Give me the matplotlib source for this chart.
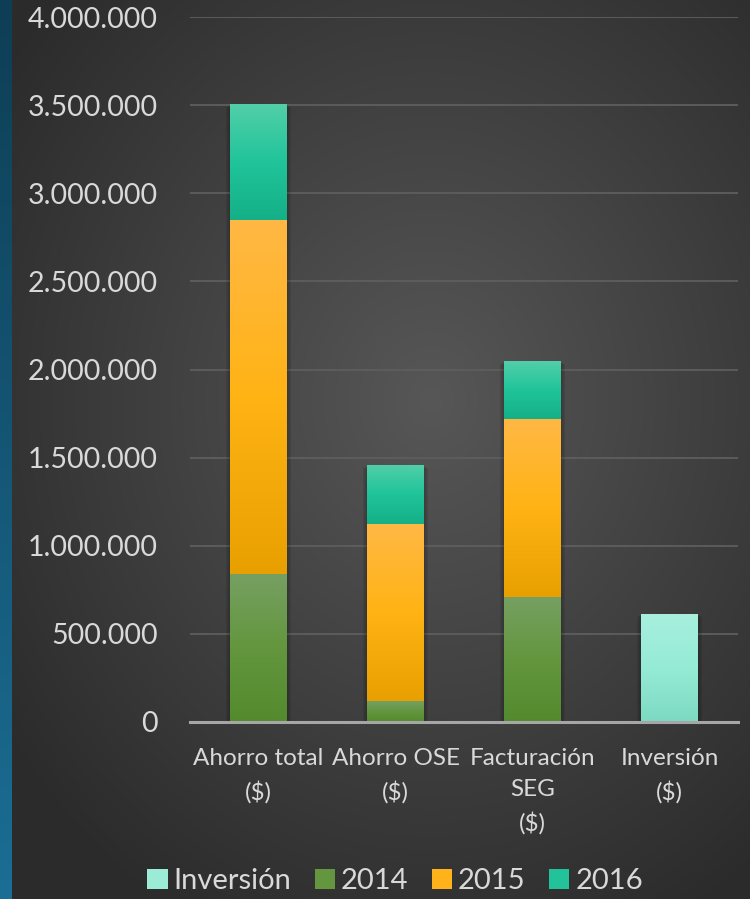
import numpy as np
import matplotlib
matplotlib.use("Agg")
import matplotlib.pyplot as plt
from matplotlib.colors import LinearSegmentedColormap, to_rgb
from matplotlib.patches import Rectangle, Patch

categories = ["Ahorro total\n($)", "Ahorro OSE\n($)", "Facturación\nSEG\n($)", "Inversión\n($)"]
inversion = [0, 0, 0, 613000]
v2014 = [840000, 119000, 709000, 0]
v2015 = [2008000, 1004000, 1010000, 0]
v2016 = [658000, 335000, 329000, 0]
yticks = [0, 500000, 1000000, 1500000, 2000000, 2500000, 3000000, 3500000, 4000000]
ytick_labels = ["0", "500.000", "1.000.000", "1.500.000", "2.000.000", "2.500.000",
                "3.000.000", "3.500.000", "4.000.000"]
legend_labels = ["Inversión", "2014", "2015", "2016"]

FONT = ["Lato", "DejaVu Sans"]
TXT = "#D9D9D9"

W, H = 750, 899
fig = plt.figure(figsize=(W / 100, H / 100), dpi=100)

# background radial gradient
bg = fig.add_axes([0, 0, 1, 1], zorder=-10)
yy, xx = np.mgrid[0:H, 0:W]
cx, cy = 430, 400
r = np.sqrt(((xx - cx) / 520.0) ** 2 + ((yy - cy) / 600.0) ** 2)
r = np.clip(r, 0, 1)
c_in = np.array(to_rgb("#575757"))
c_out = np.array(to_rgb("#2b2b2b"))
img = c_in[None, None, :] * (1 - r[..., None]) + c_out[None, None, :] * r[..., None]
# blue strip at left
strip_w = 12
t = np.linspace(0, 1, H)[:, None]
top_b = np.array(to_rgb("#0E3E55"))
bot_b = np.array(to_rgb("#1B6E95"))
img[:, :strip_w, :] = (top_b[None, None, :] * (1 - t[..., None]) + bot_b[None, None, :] * t[..., None])
bg.imshow(img, aspect="auto", extent=[0, 1, 0, 1], interpolation="bilinear")
bg.axis("off")

ax = fig.add_axes([190 / W, 1 - 722 / H, 548 / W, (722 - 17) / H])
ax.set_facecolor("none")
x = np.arange(len(categories))
width = 0.41

grads = {
    "Inversión": ["#A8EFDE", "#95EBD6", "#7DD9C3"],
    "2014": ["#76A062", "#63963E", "#548A2E"],
    "2015": ["#FFB845", "#FFB314", "#E8A000"],
    "2016": ["#52CFA9", "#20C49A", "#15B088"],
}
mids = {"Inversión": "#9BEBD6", "2014": "#64963F", "2015": "#FFB21A", "2016": "#22C39A"}

bottom = np.zeros(len(categories))
series = [("Inversión", inversion), ("2014", v2014), ("2015", v2015), ("2016", v2016)]
grad_img = np.linspace(1, 0, 256)[:, None]

xpx = 4.0 / 548
ypx = 4000000 / 705.0
for name, vals in series:
    vals = np.array(vals, dtype=float)
    bars = ax.bar(x, vals, width, bottom=bottom, color=mids[name], zorder=3, linewidth=0)
    cmap = LinearSegmentedColormap.from_list(name, grads[name][::-1])
    for b in bars:
        if b.get_height() <= 0:
            continue
        x0, y0, w, h = b.get_x(), b.get_y(), b.get_width(), b.get_height()
        im = ax.imshow(grad_img, cmap=cmap, aspect="auto", extent=[x0, x0 + w, y0, y0 + h],
                       zorder=3.5, vmin=0, vmax=1)
        im.set_clip_path(b)
    bottom = bottom + vals

# shadows
totals = bottom
for i, tot in enumerate(totals):
    for k in range(1, 7):
        ax.add_patch(Rectangle((x[i] - width / 2 - k * xpx * 0.8, -k * ypx * 0.8),
                               width + 2 * k * xpx * 0.8, tot + k * ypx * 0.3,
                               facecolor="black", alpha=0.045, linewidth=0, zorder=2))

ax.set_xlim(-0.5, len(categories) - 0.5)
ax.set_ylim(0, 4000000)
ax.set_yticks(yticks)
ax.set_yticklabels(ytick_labels)
ax.set_xticks(x)
ax.set_xticklabels(categories, linespacing=1.58)
for s in ["top", "right", "left"]:
    ax.spines[s].set_visible(False)
ax.spines["bottom"].set_color("#A6A6A6")
ax.spines["bottom"].set_linewidth(2.2)
ax.spines["bottom"].set_zorder(4)
ax.tick_params(axis="y", length=0, pad=23, labelsize=20.5, labelcolor=TXT)
ax.tick_params(axis="x", length=0, pad=19, labelsize=17.5, labelcolor=TXT)
for lab in ax.get_yticklabels() + ax.get_xticklabels():
    lab.set_family(FONT)
ax.yaxis.grid(True, color="#5E5E5E", linewidth=1.3, zorder=1)
ax.set_axisbelow(True)

handles = [Patch(facecolor=mids[n], edgecolor="none") for n in legend_labels]
leg = fig.legend(handles, legend_labels, loc="center", bbox_to_anchor=(395 / W, 1 - 881 / H),
                 ncol=4, frameon=False, handlelength=0.7, handleheight=0.7,
                 handletextpad=0.2, columnspacing=0.8, prop={"family": FONT, "size": 21})
for t_ in leg.get_texts():
    t_.set_color(TXT)

fig.savefig("out.png", dpi=100)
